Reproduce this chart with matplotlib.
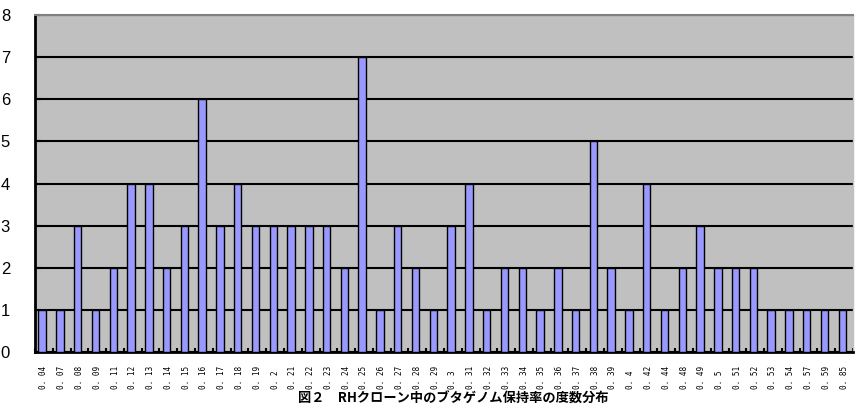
import matplotlib
matplotlib.use("Agg")
import matplotlib.pyplot as plt
import numpy as np

categories = ["0.04", "0.07", "0.08", "0.09", "0.11", "0.12", "0.13", "0.14", "0.15", "0.16",
              "0.17", "0.18", "0.19", "0.2", "0.21", "0.22", "0.23", "0.24", "0.25", "0.26",
              "0.27", "0.28", "0.29", "0.3", "0.31", "0.32", "0.33", "0.34", "0.35", "0.36",
              "0.37", "0.38", "0.39", "0.4", "0.42", "0.44", "0.48", "0.49", "0.5", "0.51",
              "0.52", "0.53", "0.54", "0.57", "0.59", "0.85"]
counts = [1, 1, 3, 1, 2, 4, 4, 2, 3, 6,
          3, 4, 3, 3, 3, 3, 3, 2, 7, 1,
          3, 2, 1, 3, 4, 1, 2, 2, 1, 2,
          1, 5, 2, 1, 4, 1, 2, 3, 2, 2,
          2, 1, 1, 1, 1, 1]
yticks = [0, 1, 2, 3, 4, 5, 6, 7, 8]
title = "図２　RHクローン中のブタゲノム保持率の度数分布"

plt.rcParams['font.family'] = ['Noto Sans CJK JP', 'DejaVu Sans']

fig = plt.figure(figsize=(8.57, 4.20), dpi=100)
ax = fig.add_axes([35/857, 1 - 352/420, 818/857, 337/420])
ax.set_facecolor('#C0C0C0')

x = np.arange(len(categories))
ax.bar(x - 0.1, counts, width=0.42, color='#9999FF', edgecolor='black', linewidth=1.0, zorder=3)

ax.set_xlim(-0.5, len(categories) - 0.5)
ax.set_ylim(0, 8)
ax.set_yticks(yticks)
ax.set_yticklabels([str(v) for v in yticks], fontsize=12, family=['Liberation Sans'])
ax.yaxis.grid(True, color='black', linewidth=1.5, zorder=1)
ax.set_axisbelow(True)
ax.tick_params(axis='y', direction='in', length=4, width=1.5, pad=18)

ax.set_xticks(x)
ax.set_xticklabels([c.replace('.', '. ') for c in categories], rotation=90, fontsize=5.6,
                   family=['DejaVu Sans Mono'], va='bottom')
ax.tick_params(axis='x', which='major', length=0, pad=26.5)
ax.set_xticks(np.arange(len(categories) + 1) - 0.5, minor=True)
ax.tick_params(axis='x', which='minor', direction='in', length=3, width=1.5)

ax.spines['left'].set_linewidth(2)
ax.spines['bottom'].set_linewidth(2)
ax.spines['top'].set_color('#808080')
ax.spines['top'].set_linewidth(1.5)
ax.spines['right'].set_color('#C0C0C0')
ax.spines['right'].set_linewidth(1.0)

fig.text(453/857, 1 - 399/420, title, ha='center', va='center', fontsize=9.5, fontweight='bold')

fig.savefig('out.png', dpi=100)
